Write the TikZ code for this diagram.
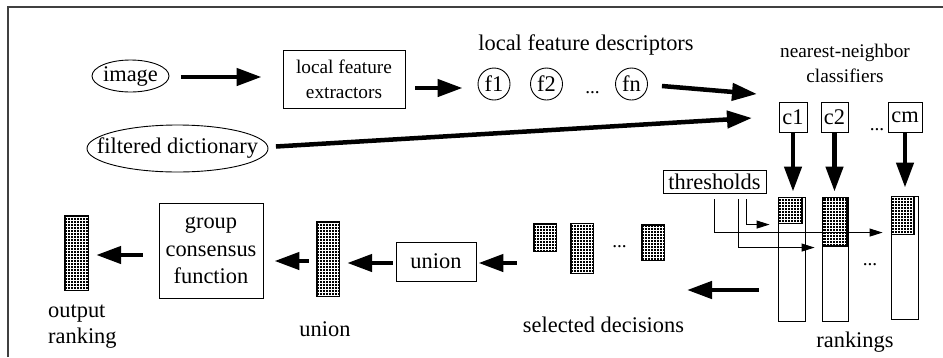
\documentclass[tikz,border=0pt]{standalone}
\usepackage{fontspec}
\setmainfont{Liberation Serif}
\usetikzlibrary{arrows.meta,shapes.geometric,calc}
\newcommand\fbig{\fontsize{22.4pt}{26pt}\selectfont}
\newcommand\fsmall{\fontsize{19.3pt}{25pt}\selectfont}
\newcommand\fgcf{\fontsize{22.4pt}{27.5pt}\selectfont}
\begin{document}
\begin{tikzpicture}[x=1pt,y=-1pt,
  every node/.style={inner sep=0pt, font=\fbig},
  box/.style={draw, line width=0.9pt, rectangle, align=center},
  oval/.style={draw, line width=0.9pt, ellipse},
  feat/.style={draw, line width=0.9pt, circle, minimum size=32pt},
  gridbar/.style={rectangle, fill=black, path picture={
      \draw[white, line width=0.5pt, step=3pt]
        ([shift={(1.5pt,1.5pt)}]path picture bounding box.south west) grid
        ([shift={(-1.5pt,-1.5pt)}]path picture bounding box.north east);}},
  rankbox/.style={draw, line width=0.9pt, rectangle, fill=white},
  bigarrow/.style={line width=4.5pt, -{Triangle[length=25pt,width=17pt]}},
  thinarrow/.style={line width=0.9pt, -{Triangle[length=13pt,width=8pt]}},
]
\useasboundingbox (0,0) rectangle (943,357);
\draw[black!75, line width=1.5pt] (8,357) -- (8,7) -- (943,7);

% top row
\node[oval, minimum width=77pt, minimum height=32pt] (img) at (130.5,76) {\makebox[0pt]{image}};
\node[oval, minimum width=181pt, minimum height=47pt] (fd) at (177.5,148.5) {\makebox[0pt]{filtered dictionary}};
\node[box, minimum width=122pt, minimum height=58pt, font=\fsmall] (ext) at (344,79) {local feature\\extractors};
\node[anchor=base] (lfd) at (586,50) {local feature descriptors};
\node[feat] (f1) at (494,84) {f1};
\node[feat] (f2) at (546.5,84) {f2};
\node[anchor=base, font=\fsmall] (fdots) at (592.5,93) {...};
\node[feat] (fn) at (631.5,84) {fn};

\node[font=\fsmall, align=center] (nnl) at (845,63.5) {nearest-neighbor\\classifiers};
\node[box, minimum width=28pt, minimum height=30pt] (c1) at (793,117) {c1};
\node[box, minimum width=27pt, minimum height=30pt] (c2) at (834.5,117) {c2};
\node[anchor=base, font=\fsmall] (cdots) at (877,130) {...};
\node[box, minimum width=34pt, minimum height=30pt] (cm) at (905,117) {cm};

\node[box, minimum width=103pt, minimum height=23pt] (thr) at (714.5,181.5) {thresholds};

% rankings
\node[rankbox, minimum width=27pt, minimum height=124pt] (r1) at (791.5,259) {};
\node[gridbar, anchor=north west, minimum width=25pt, minimum height=27pt] (r1f) at (r1.north west) {};
\node[rankbox, minimum width=26pt, minimum height=124pt] (r2) at (835,259) {};
\node[gridbar, anchor=north west, minimum width=26pt, minimum height=50pt] (r2f) at (r2.north west) {};
\node[rankbox, minimum width=27pt, minimum height=123pt] (r3) at (904.5,257.5) {};
\node[gridbar, anchor=north west, minimum width=24pt, minimum height=39pt] (r3f) at (r3.north west) {};
\node[anchor=base, font=\fsmall] (rdots) at (870,265) {...};
\node[anchor=base] (rk) at (855,347) {rankings};

% selected decisions
\node[gridbar, minimum width=24pt, minimum height=29pt] (da) at (545,237.5) {};
\node[gridbar, minimum width=24pt, minimum height=51pt] (db) at (582,248.5) {};
\node[anchor=base, font=\fsmall] (ddots) at (619.5,247.5) {...};
\node[gridbar, minimum width=24pt, minimum height=37pt] (dc) at (653,242.5) {};
\node[anchor=base] (sd) at (603.5,332) {selected decisions};

% union
\node[box, minimum width=80pt, minimum height=39pt] (ubox) at (436,261.5) {union};
\node[gridbar, minimum width=24pt, minimum height=76pt] (ubar) at (328,259) {};
\node[anchor=base] (ul) at (325,336) {union};

% group consensus
\node[box, minimum width=104pt, minimum height=95pt, font=\fgcf] (gcf) at (211,250.5) {group\\consensus\\function};
\node[gridbar, minimum width=25pt, minimum height=76pt] (out) at (76.5,253) {};
\node[anchor=west, align=left] (ol) at (48,326.5) {output\\ranking};

% connectors
\coordinate (nn1) at (757,94);
\coordinate (nn2) at (752,118);
\coordinate (selin) at (687,290);
\draw[bigarrow] ($(img.east)+(11.5,1)$) -- ($(ext.west |- img.east)+(-21,1)$);
\draw[bigarrow] ($(ext.east)+(10,9)$) -- ($(f1.west)+(-15,4)$);
\draw[bigarrow] ($(fn.east)+(14,2)$) -- (nn1);
\draw[bigarrow] ($(fd.east)+(7.5,-2)$) -- (nn2);
\draw[bigarrow] (c1.south) -- ($(c1.south |- r1.north)+(0,-5)$);
\draw[bigarrow] (c2.south) -- ($(c2.south |- r2.north)+(0,-5)$);
\draw[bigarrow] (cm.south) -- ($(cm.south |- r3.north)+(0,-8)$);

\draw[thinarrow] ($(thr.south west)+(52,6)$) |- ($(r3.north west)+(-8,37)$);
\draw[thinarrow] ($(thr.south west)+(76,6)$) |- ($(r2.north west)+(-7,51)$);
\draw[thinarrow] ($(thr.south west)+(84,6)$) |- ($(r1.north west)+(-8,28)$);

\draw[bigarrow] ($(r1.west)+(-19,31)$) -- (selin);
\draw[bigarrow] ($(da.west |- ubox.east)+(-16,1.5)$) -- ($(ubox.east)+(2,1.5)$);
\draw[bigarrow] ($(ubox.west)+(-3,1.5)$) -- ($(ubar.east |- ubox.west)+(7,1.5)$);
\draw[bigarrow] ($(ubar.west)+(-7,2)$) -- ($(gcf.east |- ubar.west)+(11,2)$);
\draw[bigarrow] ($(gcf.west)+(-16,4.5)$) -- ($(out.east |- gcf.west)+(7,4.5)$);
\end{tikzpicture}
\end{document}
